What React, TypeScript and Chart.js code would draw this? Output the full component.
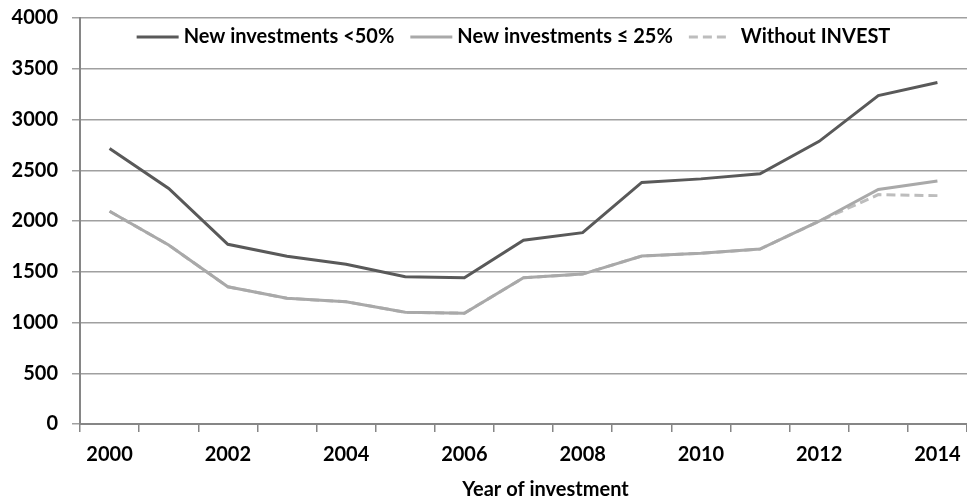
import React, { useEffect, useRef } from "react";
import { Chart, registerables } from "chart.js";

Chart.register(...registerables);

const years = ["2000", "2001", "2002", "2003", "2004", "2005", "2006", "2007", "2008", "2009", "2010", "2011", "2012", "2013", "2014"];
const newInvestments50 = [2715, 2320, 1770, 1652, 1573, 1450, 1440, 1810, 1885, 2380, 2415, 2465, 2785, 3235, 3365];
const newInvestments25 = [2096, 1763, 1352, 1238, 1205, 1100, 1092, 1441, 1477, 1655, 1682, 1724, 1998, 2310, 2395];
const withoutInvest = [2096, 1763, 1352, 1238, 1205, 1100, 1092, 1441, 1477, 1655, 1682, 1724, 1998, 2260, 2250];
const seriesLabels = ["New investments <50%", "New investments \u2264 25%", "Without INVEST"];
const xAxisTitle = "Year of investment";
const yMin = 0;
const yMax = 4000;
const yStep = 500;

const FONT = "Lato, 'Open Sans', sans-serif";
const TICK_SIZE = 20;
const LEGEND_SIZE = 20;

const insideLegend = {
  id: "insideLegend",
  afterDraw(chart: any) {
    const ctx = chart.ctx;
    const area = chart.chartArea;
    ctx.save();
    ctx.font = `bold ${LEGEND_SIZE}px ${FONT}`;
    const lineLen = 42;
    const gap = 5;
    const itemGap = 16;
    const items = chart.data.datasets.map((ds: any) => ({
      label: ds.label,
      color: ds.borderColor,
      dash: ds.borderDash || [],
      dashGap: ds.borderDash ? 10 : gap,
    }));
    const widths = items.map((it: any) => lineLen + it.dashGap + ctx.measureText(it.label).width);
    const total = widths.reduce((a: number, b: number) => a + b, 0) + itemGap * (items.length - 1);
    let x = (area.left + area.right) / 2 - 10 - total / 2;
    const y = 37;
    items.forEach((it: any, i: number) => {
      ctx.beginPath();
      ctx.setLineDash(it.dash);
      ctx.strokeStyle = it.color;
      ctx.lineWidth = 3;
      ctx.moveTo(x, y);
      ctx.lineTo(x + lineLen, y);
      ctx.stroke();
      ctx.setLineDash([]);
      ctx.fillStyle = "#000";
      ctx.textAlign = "left";
      ctx.textBaseline = "middle";
      ctx.fillText(it.label, x + lineLen + it.dashGap, y);
      x += widths[i] + itemGap;
    });
    // x axis title
    ctx.textAlign = "center";
    ctx.textBaseline = "middle";
    ctx.fillText(xAxisTitle, (area.left + area.right) / 2 + 22, 490);
    ctx.restore();
  },
};

export default function App() {
  const ref = useRef<HTMLCanvasElement>(null);
  useEffect(() => {
    if (!ref.current) return;
    const chart = new Chart(ref.current, {
      type: "line",
      data: {
        labels: years,
        datasets: [
          {
            label: seriesLabels[0],
            data: newInvestments50,
            borderColor: "#595959",
            backgroundColor: "#595959",
            borderWidth: 3,
            pointRadius: 0,
            tension: 0,
          },
          {
            label: seriesLabels[1],
            data: newInvestments25,
            borderColor: "#a9a9a9",
            backgroundColor: "#a9a9a9",
            borderWidth: 3,
            pointRadius: 0,
            tension: 0,
          },
          {
            label: seriesLabels[2],
            data: withoutInvest,
            borderColor: "#bdbdbd",
            backgroundColor: "#bdbdbd",
            borderWidth: 3,
            borderDash: [9, 5],
            pointRadius: 0,
            tension: 0,
          },
        ],
      },
      options: {
        responsive: false,
        animation: false,
        devicePixelRatio: 1,
        layout: { padding: { top: 18, left: 0, right: 0, bottom: 0 } },
        plugins: {
          legend: { display: false },
          tooltip: { enabled: false },
          title: { display: false },
        },
        scales: {
          x: {
            type: "category",
            offset: true,
            afterFit: (s: any) => {
              s.height = 77;
              s.paddingLeft = 0;
              s.paddingRight = 0;
            },
            grid: {
              offset: true,
              drawOnChartArea: false,
              drawTicks: true,
              tickLength: 8,
              color: "#868686",
              lineWidth: 1.5,
            },
            border: { display: true, color: "#868686", width: 2 },
            ticks: {
              autoSkip: false,
              maxRotation: 0,
              padding: 11,
              color: "#000",
              font: { family: FONT, size: TICK_SIZE, weight: "bold" },
              callback: (_v: any, i: number) => (i % 2 === 0 ? years[i] : ""),
            },
          },
          y: {
            min: yMin,
            max: yMax,
            afterFit: (s: any) => {
              s.width = 80;
              s.paddingTop = 0;
              s.paddingBottom = 0;
            },
            grid: {
              color: "#a0a0a0",
              lineWidth: 1.5,
              tickLength: 8,
              drawTicks: true,
            },
            border: { display: true, color: "#868686", width: 2 },
            ticks: {
              stepSize: yStep,
              padding: 14,
              color: "#000",
              font: { family: FONT, size: TICK_SIZE, weight: "bold" },
              callback: (v: any) => String(v),
            },
          },
        },
      },
      plugins: [insideLegend],
    });
    return () => chart.destroy();
  }, []);
  return (
    <div style={{ position: "fixed", left: 0, top: 0, width: 967, height: 501, background: "#fff" }}>
      <canvas ref={ref} width={967} height={501} />
    </div>
  );
}
